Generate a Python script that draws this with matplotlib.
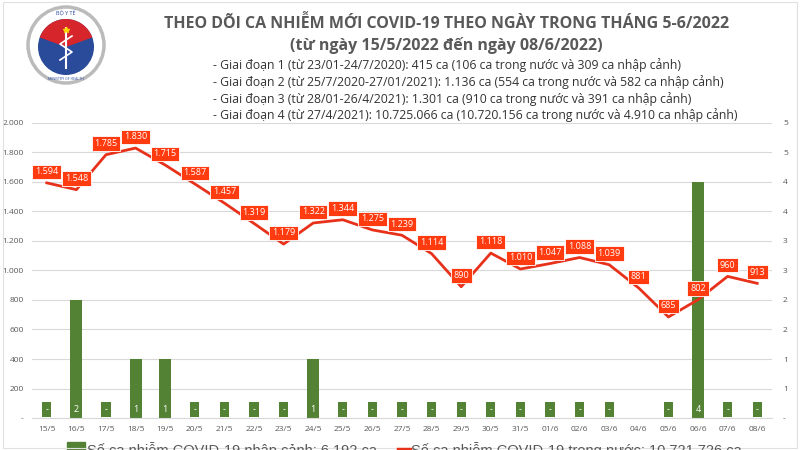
import numpy as np
import matplotlib
matplotlib.use("Agg")
import matplotlib.pyplot as plt
from matplotlib.patches import Circle, Wedge, Rectangle
from matplotlib.lines import Line2D

plt.rcParams['font.family'] = ['Open Sans', 'DejaVu Sans']

# du lieu
ngay = ["15/5", "16/5", "17/5", "18/5", "19/5", "20/5", "21/5", "22/5", "23/5",
        "24/5", "25/5", "26/5", "27/5", "28/5", "29/5", "30/5", "31/5", "01/6",
        "02/6", "03/6", "04/6", "05/6", "06/6", "07/6", "08/6"]
trong_nuoc = [1594, 1548, 1785, 1830, 1715, 1587, 1457, 1319, 1179, 1322, 1344,
              1275, 1239, 1114, 890, 1118, 1010, 1047, 1088, 1039, 881, 685,
              802, 960, 913]
nhap_canh = [0, 2, 0, 1, 1, 0, 0, 0, 0, 1, 0, 0, 0, 0, 0, 0, 0, 0, 0, 0,
             np.nan, 0, 4, 0, 0]

tieu_de = "THEO DÕI CA NHIỄM MỚI COVID-19 THEO NGÀY TRONG THÁNG 5-6/2022"
phu_de = "(từ ngày 15/5/2022 đến ngày 08/6/2022)"
giai_doan = [
    "- Giai đoạn 1 (từ 23/01-24/7/2020): 415 ca (106 ca trong nước và 309 ca nhập cảnh)",
    "- Giai đoạn 2 (từ 25/7/2020-27/01/2021): 1.136 ca (554 ca trong nước và 582 ca nhập cảnh)",
    "- Giai đoạn 3 (từ 28/01-26/4/2021): 1.301 ca (910 ca trong nước và 391 ca nhập cảnh)",
    "- Giai đoạn 4 (từ 27/4/2021): 10.725.066 ca (10.720.156 ca trong nước và 4.910 ca nhập cảnh)",
]
chu_thich_1 = "Số ca nhiễm COVID-19 nhập cảnh: 6.192 ca"
chu_thich_2 = "Số ca nhiễm COVID-19 trong nước: 10.721.726 ca"

xanh = "#548235"
do = "#E8311A"
do_nhan = "#FF3B0F"
xam = "#595959"

def fmt_vn(v):
    if v == 0:
        return "-"
    return f"{int(round(v)):,}".replace(",", ".")

fig = plt.figure(figsize=(8, 4.5), dpi=100)
x = np.arange(len(ngay))

ax = fig.add_axes([0.04, 0.0711, 0.925, 0.6556])
ax2 = ax.twinx()
ax.set_zorder(ax2.get_zorder() + 1)
ax.patch.set_visible(False)

# cot nhap canh (truc phai)
ax2.bar(x, nhap_canh, width=0.4, color=xanh, zorder=2)
for xi, v in zip(x, nhap_canh):
    if np.isnan(v):
        continue
    ax2.text(xi, 0.14, "-" if v == 0 else f"{int(v)}", ha="center", va="center",
             color="white", fontsize=6.5, zorder=3,
             bbox=dict(boxstyle="square,pad=0.35", fc=xanh, ec="none"))
ax2.set_ylim(0, 5)
ax2.set_yticks(np.arange(0, 5.01, 0.5))
ax2.set_yticklabels(["-" if t == 0 else str(int(t + 0.5)) for t in np.arange(0, 5.01, 0.5)])
ax2.grid(axis="y", color="#D9D9D9", lw=0.8, zorder=0)
ax2.set_axisbelow(True)

# duong trong nuoc (truc trai)
ax.plot(x, trong_nuoc, color=do, lw=2, zorder=4)
for xi, v in zip(x, trong_nuoc):
    ax.annotate(fmt_vn(v), (xi, v), xytext=(0, 8), textcoords="offset points",
                ha="center", va="center", color="white", fontsize=6.5, zorder=5,
                bbox=dict(boxstyle="square,pad=0.3", fc=do_nhan, ec="white", lw=0.6))
ax.set_ylim(0, 2000)
ax.set_yticks(range(0, 2001, 200))
ax.set_yticklabels([fmt_vn(t) for t in range(0, 2001, 200)])
ax.set_xlim(-0.5, len(ngay) - 0.5)
ax.set_xticks(x)
ax.set_xticklabels(ngay)

for a in (ax, ax2):
    for s in a.spines.values():
        s.set_visible(False)
    a.tick_params(length=0, labelsize=6, labelcolor=xam)
ax2.spines["bottom"].set_visible(True)
ax2.spines["bottom"].set_color("#D9D9D9")
ax.tick_params(axis="x", pad=6)
ax.tick_params(axis="y", pad=6)
ax2.tick_params(axis="y", pad=8)

# tieu de
fig.text(0.558, 0.948, tieu_de, ha="center", va="center", fontsize=11.5,
         fontweight="bold", color=xam)
fig.text(0.558, 0.9, phu_de, ha="center", va="center", fontsize=11.5,
         fontweight="bold", color=xam)
for i, dong in enumerate(giai_doan):
    fig.text(0.266, 0.856 - i * 0.0375, dong, ha="left", va="center",
             fontsize=8.8, color="#333333")

# chu thich (bi cat o duoi)
fig.patches.append(Rectangle((67 / 800, -0.01), 18 / 800, 0.028,
                             transform=fig.transFigure, color=xanh))
fig.text(87 / 800, -0.012, chu_thich_1, ha="left", va="baseline", fontsize=10.5,
         color=xam, family=["Liberation Sans", "DejaVu Sans"])
fig.lines.append(Line2D([398 / 800, 410 / 800], [0.003, 0.003],
                        transform=fig.transFigure, color=do, lw=2.5))
fig.text(411 / 800, -0.012, chu_thich_2, ha="left", va="baseline", fontsize=10.5,
         color=xam, family=["Liberation Sans", "DejaVu Sans"])

# logo bo y te (don gian)
logo = fig.add_axes([0.02, 0.8, 0.125, 0.2])
logo.set_xlim(0, 100)
logo.set_ylim(0, 90)
logo.set_aspect("equal")
logo.axis("off")
logo.add_patch(Circle((50, 45), 38, fc="white", ec="#BBBBBB", lw=2.5))
logo.add_patch(Circle((50, 43), 28, fc="#2A4A9A", ec="none"))
logo.add_patch(Wedge((50, 43), 28, 20, 160, fc="#D7262B", ec="none"))
logo.plot([50, 50], [22, 62], color="white", lw=1.5)
logo.plot([44, 56, 44, 56], [30, 38, 46, 54], color="white", lw=1.2)
logo.plot(50, 60, marker="*", color="#FFD700", ms=4)
logo.text(50, 77, "BỘ Y TẾ", ha="center", va="center", fontsize=4, color="#2A4A9A")
logo.text(50, 11, "MINISTRY OF HEALTH", ha="center", va="center", fontsize=2.5,
          color="#2A4A9A")

# khung
fig.patches.append(Rectangle((0.004, 0.004), 0.992, 0.992, transform=fig.transFigure,
                             fill=False, ec="#E0E0E0", lw=0.8))

fig.savefig("out.png", dpi=100)
